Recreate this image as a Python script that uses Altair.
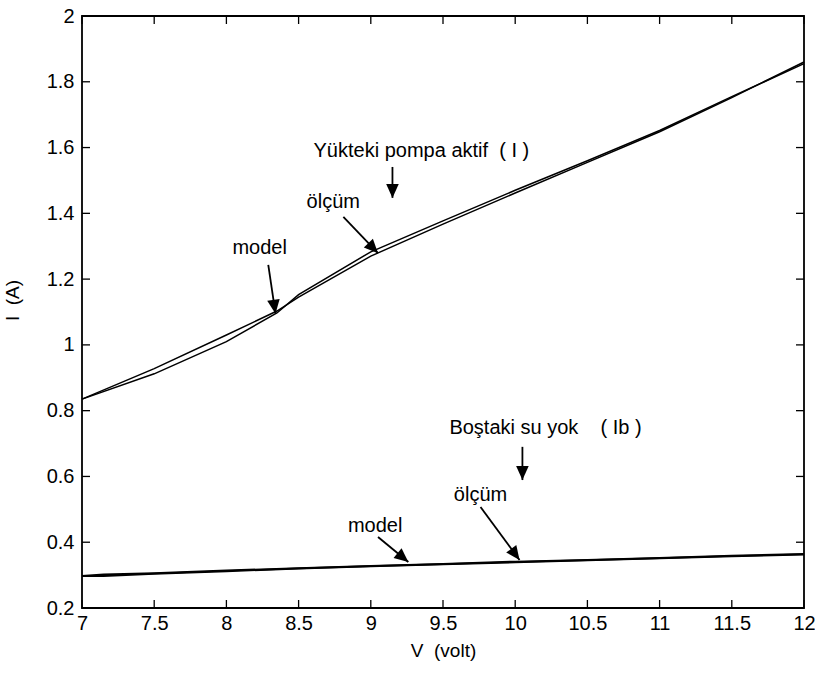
import math
import altair as alt
import pandas as pd

# ---------------- data ----------------
V_UP = [7.0, 7.5, 8.0, 8.35, 8.5, 9.0, 9.5, 10.0, 10.5, 11.0, 11.5, 12.0]
I_MODEL = [0.835, 0.928, 1.03, 1.103, 1.145, 1.27, 1.367, 1.462, 1.555, 1.648, 1.752, 1.86]
I_OLCUM = [0.835, 0.912, 1.01, 1.097, 1.153, 1.283, 1.377, 1.47, 1.56, 1.652, 1.755, 1.855]

V_LO = [7.0, 7.15, 7.5, 8.0, 8.5, 9.0, 9.5, 10.0, 10.5, 11.0, 11.5, 12.0]
IB_MODEL = [0.297, 0.297, 0.304, 0.312, 0.320, 0.327, 0.333, 0.339, 0.345, 0.351, 0.357, 0.363]
IB_OLCUM = [0.297, 0.302, 0.306, 0.314, 0.321, 0.328, 0.334, 0.341, 0.346, 0.352, 0.359, 0.364]

X_TICKS = [7, 7.5, 8, 8.5, 9, 9.5, 10, 10.5, 11, 11.5, 12]
Y_TICKS = [0.2, 0.4, 0.6, 0.8, 1, 1.2, 1.4, 1.6, 1.8, 2]

LABELS = ["Yükteki pompa aktif\u00a0\u00a0(\u00a0I\u00a0)", "ölçüm", "model",
          "Boştaki su yok\u00a0\u00a0\u00a0\u00a0(\u00a0Ib\u00a0)", "ölçüm", "model"]
LABEL_X = [9.35, 8.74, 8.23, 10.21, 9.76, 9.03]
LABEL_Y = [1.59, 1.434, 1.295, 0.747, 0.544, 0.449]

ARROW_X0 = [9.15, 8.81, 8.29, 10.05, 9.76, 9.05]
ARROW_Y0 = [1.541, 1.389, 1.243, 0.69, 0.507, 0.416]
ARROW_X1 = [9.15, 9.05, 8.34, 10.05, 10.03, 9.26]
ARROW_Y1 = [1.447, 1.279, 1.095, 0.589, 0.346, 0.34]

# ---------------- layout ----------------
W, H = 722, 592
XMIN, XMAX, YMIN, YMAX = 7, 12, 0.2, 2
PX_X = W / (XMAX - XMIN)
PX_Y = H / (YMAX - YMIN)
FONT = "Liberation Sans"

xs = alt.Scale(domain=[XMIN, XMAX], nice=False, zero=False)
ys = alt.Scale(domain=[YMIN, YMAX], nice=False, zero=False)

lines_df = pd.concat([
    pd.DataFrame({"v": V_UP, "i": I_MODEL, "s": "up_model"}),
    pd.DataFrame({"v": V_UP, "i": I_OLCUM, "s": "up_olcum"}),
])
low_df = pd.concat([
    pd.DataFrame({"v": V_LO, "i": IB_MODEL, "s": "lo_model"}),
    pd.DataFrame({"v": V_LO, "i": IB_OLCUM, "s": "lo_olcum"}),
])

angles = []
for x0, y0, x1, y1 in zip(ARROW_X0, ARROW_Y0, ARROW_X1, ARROW_Y1):
    dx = (x1 - x0) * PX_X
    dy = -(y1 - y0) * PX_Y
    angles.append(math.degrees(math.atan2(-dx, dy)) % 360)

arrows_df = pd.DataFrame({"x0": ARROW_X0, "y0": ARROW_Y0, "x1": ARROW_X1,
                          "y1": ARROW_Y1, "ang": angles})
labels_df = pd.DataFrame({"t": LABELS, "x": LABEL_X, "y": LABEL_Y})

base_x = alt.X("v:Q", scale=xs, title="V\u00a0\u00a0(volt)",
               axis=alt.Axis(values=X_TICKS, format="~g", ticks=False, domain=False,
                             grid=False, labelFlush=False, labelOverlap=False,
                             labelPadding=5, labelFont=FONT, labelFontSize=20,
                             labelColor="black", titleFont=FONT, titleFontSize=19,
                             titleFontWeight="normal", titleColor="black",
                             titlePadding=8))
base_y = alt.Y("i:Q", scale=ys, title="I\u00a0\u00a0(A)",
               axis=alt.Axis(values=Y_TICKS, format="~g", ticks=False, domain=False,
                             grid=False, labelFlush=False, labelOverlap=False,
                             labelPadding=8, labelFont=FONT, labelFontSize=20,
                             labelColor="black", titleFont=FONT, titleFontSize=19,
                             titleFontWeight="normal", titleColor="black",
                             titleX=-70, titleY=284, titleBaseline="middle"))

upper = alt.Chart(lines_df).mark_line(color="black", strokeWidth=1.5).encode(
    x=base_x, y=base_y, detail="s:N")
lower = alt.Chart(low_df).mark_line(color="black", strokeWidth=2).encode(
    x=alt.X("v:Q", scale=xs), y=alt.Y("i:Q", scale=ys), detail="s:N")

xt_df = pd.DataFrame({"v": X_TICKS})
yt_df = pd.DataFrame({"i": Y_TICKS})
tick_bottom = alt.Chart(xt_df).mark_rule(color="black", strokeWidth=1.3).encode(
    x=alt.X("v:Q", scale=xs), y=alt.value(H), y2=alt.value(H - 8))
tick_top = alt.Chart(xt_df).mark_rule(color="black", strokeWidth=1.3).encode(
    x=alt.X("v:Q", scale=xs), y=alt.value(0), y2=alt.value(8))
tick_left = alt.Chart(yt_df).mark_rule(color="black", strokeWidth=1.3).encode(
    y=alt.Y("i:Q", scale=ys), x=alt.value(0), x2=alt.value(8))
tick_right = alt.Chart(yt_df).mark_rule(color="black", strokeWidth=1.3).encode(
    y=alt.Y("i:Q", scale=ys), x=alt.value(W), x2=alt.value(W - 8))

shafts = alt.Chart(arrows_df).mark_rule(color="black", strokeWidth=1.8).encode(
    x=alt.X("x0:Q", scale=xs), y=alt.Y("y0:Q", scale=ys),
    x2="x1:Q", y2="y1:Q")
heads = alt.Chart(arrows_df).mark_point(
    shape="M0,0L-0.45,-1L0.45,-1Z", filled=True, color="black", opacity=1,
    size=780, strokeWidth=0).encode(
    x=alt.X("x1:Q", scale=xs), y=alt.Y("y1:Q", scale=ys),
    angle=alt.Angle("ang:Q", scale=None))

texts = alt.Chart(labels_df).mark_text(
    font=FONT, fontSize=20, color="black", align="center", baseline="middle").encode(
    x=alt.X("x:Q", scale=xs), y=alt.Y("y:Q", scale=ys), text="t:N")

chart = alt.layer(upper, lower, tick_bottom, tick_top, tick_left, tick_right,
                  shafts, heads, texts).properties(
    width=W, height=H,
    padding={"left": 82, "top": 16, "right": 11, "bottom": 67},
    autosize="none",
    background="white",
).configure_view(stroke="black", strokeWidth=1.8)

chart.save("out.html", embed_options={"renderer": "svg", "actions": False})
